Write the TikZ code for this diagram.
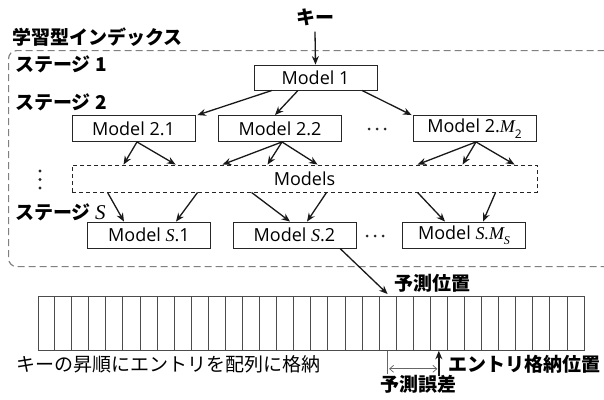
\documentclass[tikz,border=0pt]{standalone}
\usepackage{fontspec}
\setmainfont{Open Sans}
\newfontfamily\jp{Noto Sans CJK JP}
\newfontfamily\ser{Liberation Serif}
\usetikzlibrary{arrows.meta,calc}
\newcommand\ItS{{\ser\mdseries\itshape S}}
\newcommand\ItM{{\ser\mdseries\itshape M}}
\newcommand\subx[1]{\raisebox{-0.3em}{\fontsize{12}{12}\selectfont #1}}
\begin{document}
\begin{tikzpicture}[x=1pt,y=-1pt,
  box/.style={draw=black!85,line width=0.9pt,minimum width=123pt,minimum height=26pt,inner sep=0pt,font=\fontsize{18}{18}\selectfont},
  conn/.style={-{Stealth[length=8.5pt,width=7pt]},line width=1.3pt,black!90},
  jpb/.style={font=\jp\bfseries\fontsize{19}{19}\selectfont,inner sep=0pt},
  jpr/.style={font=\jp\fontsize{19}{19}\selectfont,inner sep=0pt},
  dotmark/.style={circle,fill=black!85,inner sep=0pt,minimum size=3.2pt}
]
\useasboundingbox (0,0) rectangle (604,399);
\fill[white] (0,0) rectangle (604,399);
% outer dashed box
\begin{scope}
\clip (0,0) rectangle (604,399);
\node[draw=black!50,line width=1.2pt,dash pattern=on 7pt off 4pt,rounded corners=8pt,
  minimum width=604pt,minimum height=216pt,anchor=north west,inner sep=0pt] (outer) at (8,50) {};
\end{scope}
\node[jpb,anchor=west] (title) at (12,37) {学習型インデックス};
\node[jpb,anchor=west] (st1) at (15,64.5) {ステージ 1};
\node[jpb,anchor=west] (st2) at (15,102.5) {ステージ 2};
\node[jpb,anchor=west] (sts) at (15,212) {ステージ {\fontsize{21}{21}\selectfont\ItS}};
\foreach \k in {0,1,2}
  \node[dotmark] (vd\k) at (40,171+8.5*\k) {};

\node[jpb] (key) at (315,17) {キー};
\node[box,minimum height=25pt] (m1) at (315.5,77.5) {Model 1};
\node[box] (m21) at (133.5,128.5) {Model 2.1};
\node[box] (m22) at (280,128.5) {Model 2.2};
\node[box] (m2m) at (474.5,128.5) {Model 2.\ItM\subx{2}};
\foreach \k in {0,1,2}
  \node[dotmark,minimum size=3pt] (dh\k) at (369+8*\k,129) {};
\node[draw=black!85,line width=0.9pt,dash pattern=on 4pt off 3pt,minimum width=465pt,minimum height=27pt,inner sep=0pt,font=\fontsize{18}{18}\selectfont] (models) at (304.5,178.5) {Models};
\node[box] (ms1) at (149,235) {Model \ItS.1};
\node[box] (ms2) at (294.5,235) {Model \ItS.2};
\node[box] (msm) at (464,235) {Model {\ser\itshape S.M}\subx{\ItS}};
\foreach \k in {0,1,2}
  \node[dotmark,minimum size=3pt] (ds\k) at (367+8*\k,236) {};

\draw[conn] ($(key.south)+(0,6)$) -- (m1.north);
\draw[conn] ($(m1.south)+(-43.5,0)$) -- ($(m21.north east)+(2,0)$);
\draw[conn] ($(m1.south)+(-17.5,0)$) -- ($(m22.north)+(-5,0)$);
\draw[conn] ($(m1.south)+(46.5,0)$) -- ($(m2m.north west)+(-1,0)$);

\draw[conn] ($(m21.south)+(3.5,0)$) -- ($(models.north west)+(52,0)$);
\draw[conn] ($(m21.south)+(3.5,0)$) -- ($(models.north west)+(104,0)$);
\draw[conn] ($(m22.south)+(2,0)$) -- ($(models.north west)+(151,0)$);
\draw[conn] ($(m22.south)+(2,0)$) -- ($(models.north west)+(196,0)$);
\draw[conn] ($(m22.south)+(2,0)$) -- ($(models.north west)+(246,0)$);
\draw[conn] ($(m2m.south)+(1.5,0)$) -- ($(models.north west)+(346,0)$);
\draw[conn] ($(m2m.south)+(1.5,0)$) -- ($(models.north west)+(391,0)$);
\draw[conn] ($(m2m.south)+(1.5,0)$) -- ($(models.north west)+(443,0)$);

\draw[conn] ($(models.south west)+(36,0)$) -- ($(ms1.north)+(-25,0)$);
\draw[conn] ($(models.south west)+(126,0)$) -- ($(ms1.north)+(27,0)$);
\draw[conn] ($(models.south west)+(180,0)$) -- ($(ms2.north)+(-4.5,0)$);
\draw[conn] ($(models.south west)+(255,0)$) -- ($(ms2.north)+(12.5,0)$);
\draw[conn] ($(models.south west)+(346,0)$) -- ($(msm.north)+(-19,0)$);
\draw[conn] ($(models.south west)+(424,0)$) -- ($(msm.north)+(19,0)$);

% array
\node[draw=black!70,line width=0.8pt,minimum width=546.5pt,minimum height=54pt,anchor=north west,inner sep=0pt] (array) at (37.5,296) {};
\foreach \i in {1,...,31}
  \draw[black!70,line width=0.8pt] ($(array.north west)+(\i*17.078,0)$) -- ($(array.south west)+(\i*17.078,0)$);
\coordinate (pred) at ($(array.north west)+(20.5*17.078,0)$);
\coordinate (predb) at ($(array.south west)+(20.5*17.078,0)$);
\coordinate (true) at ($(array.south west)+(23.5*17.078,0)$);

\draw[conn] ($(ms2.south)+(45.5,0)$) -- ($(pred)+(0,-2)$);
\node[jpb] (predlabel) at (432,283) {予測位置};
\draw[black!60,line width=0.8pt] (predb) -- ($(predb)+(0,23)$);
\draw[black!60,line width=0.7pt,{Straight Barb[length=4pt,width=7pt]}-{Straight Barb[length=4pt,width=7pt]}] ($(predb)+(1.5,18)$) -- ($(true)+(-1.5,18)$);
\draw[conn,line width=1.5pt] ($(true)+(0,25)$) -- (true);
\node[jpb,anchor=west] (entry) at (448,364) {エントリ格納位置};
\node[jpb] (err) at (418.5,384) {予測誤差};
\node[jpr,anchor=west] (desc) at (16,364) {キーの昇順にエントリを配列に格納};
\end{tikzpicture}
\end{document}
